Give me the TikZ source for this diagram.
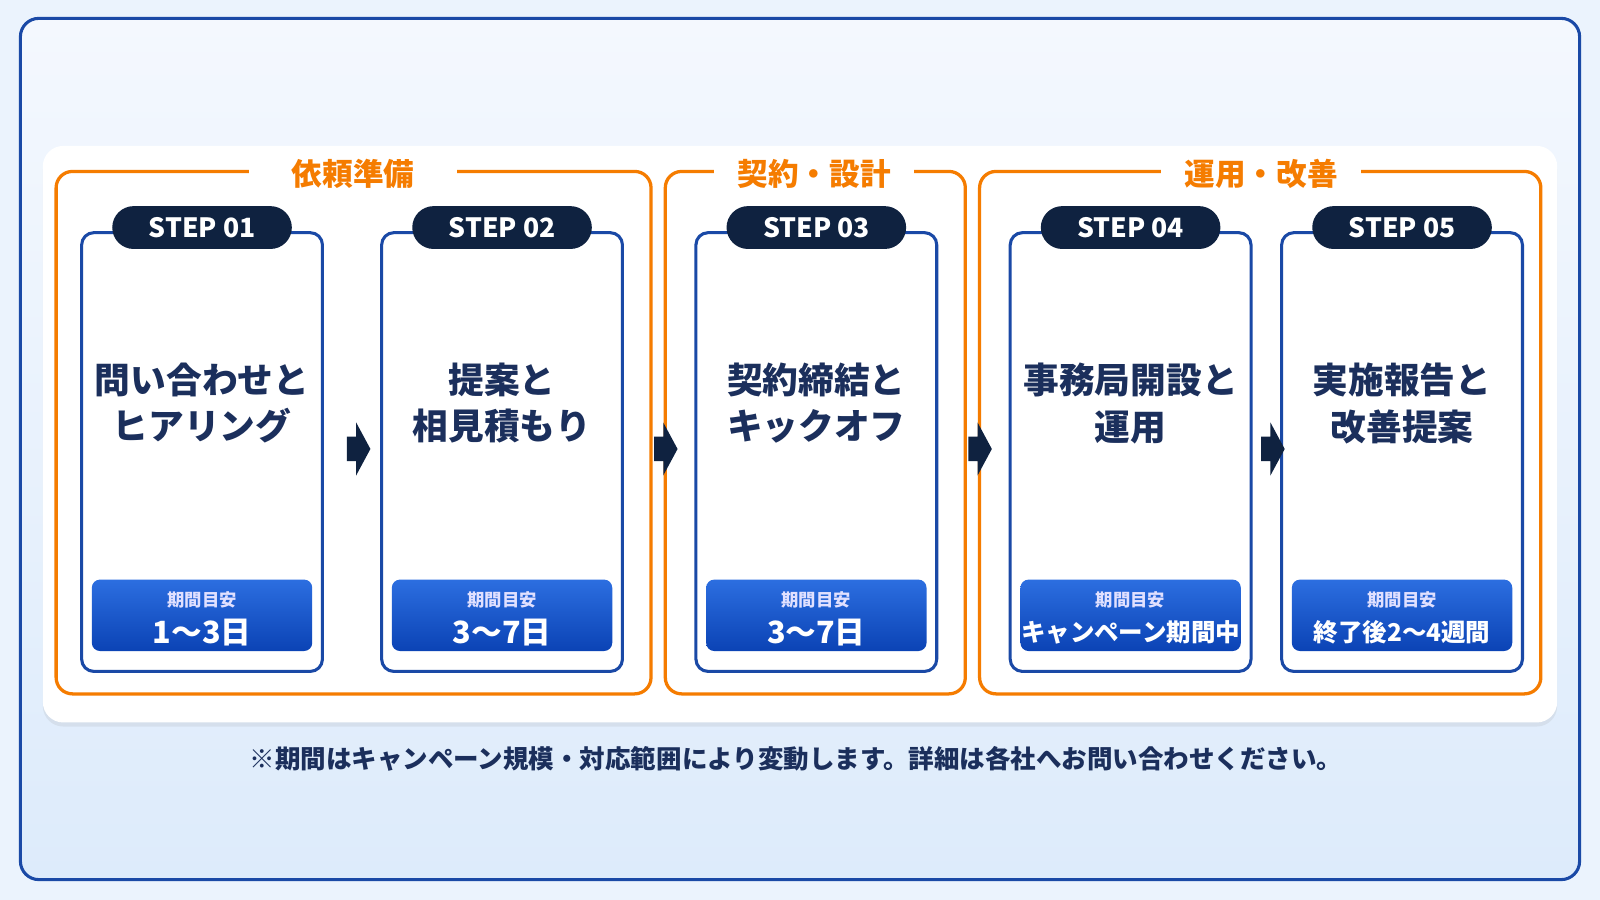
\documentclass[tikz,border=0pt]{standalone}
\usepackage{fontspec}
\setmainfont{Noto Sans CJK JP}
\usetikzlibrary{shadows,calc}
\definecolor{navy}{HTML}{0F2240}
\definecolor{ttl}{HTML}{1B2F5C}
\definecolor{frame}{HTML}{1A49A6}
\definecolor{org}{HTML}{F57C00}
\definecolor{bgA}{HTML}{F4F8FE}
\definecolor{bgB}{HTML}{DDEBFB}
\definecolor{bdA}{HTML}{2C6EE0}
\definecolor{bdB}{HTML}{0B43B5}
\tikzset{
 x=0.5pt,y=-0.5pt,
 group/.style={draw=org,line width=1.6pt,rounded corners=8pt},
 gtitle/.style={fill=white,text=org,font=\bfseries\fontsize{15}{18}\selectfont,inner xsep=6pt},
 card/.style={draw=frame,line width=1.5pt,rounded corners=6pt,fill=white},
 pill/.style={fill=navy,rounded corners=10.5pt,minimum width=88pt,minimum height=21pt,text=white,font=\bfseries\fontsize{13}{15}\selectfont},
 ctitle/.style={text=ttl,font=\bfseries\fontsize{17.5}{23}\selectfont,align=center},
 badge/.style={rounded corners=4pt,top color=bdA,bottom color=bdB,minimum width=108pt,minimum height=35pt},
 blab/.style={text=white!88!blue,font=\bfseries\fontsize{8.5}{10}\selectfont},
 bval/.style={text=white,font=\bfseries\fontsize{15}{17}\selectfont},
 bvals/.style={text=white,font=\bfseries\fontsize{12}{14}\selectfont},
 chev/.style={fill=navy}
}
\begin{document}
\begin{tikzpicture}
\fill[bgA!60!bgB] (0,0) rectangle (1568,882);
\useasboundingbox (0,0) rectangle (1568,882);
\draw[frame,line width=1.5pt,rounded corners=9pt,top color=bgA,bottom color=bgB] (20,18) rectangle (1548,862);
\fill[white,rounded corners=10pt,drop shadow={opacity=0.12,shadow xshift=0pt,shadow yshift=-2pt}] (42,143) rectangle (1526,708);
% groups
\draw[group] (55,168) rectangle (638,680);
\draw[group] (652,168) rectangle (946,680);
\draw[group] (960,168) rectangle (1510,680);
\node[gtitle,minimum width=102pt] (g1) at (346,170) {依頼準備};
\node[gtitle,minimum width=98pt] (g2) at (798,170) {契約・設計};
\node[gtitle,minimum width=98pt] (g3) at (1236,170) {運用・改善};
% cards
\foreach \i/\x/\t/\v/\s in {1/198/{問い合わせと\\ヒアリング}/{1〜3日}/bval,
 2/492/{提案と\\相見積もり}/{3〜7日}/bval,
 3/800/{契約締結と\\キックオフ}/{3〜7日}/bval,
 4/1108/{事務局開設と\\運用}/{キャンペーン期間中}/bvals,
 5/1374/{実施報告と\\改善提案}/{終了後2〜4週間}/bvals}{
 \draw[card] (\x-118,228) rectangle (\x+118,658);
 \coordinate (c\i) at (\x,440);
 \node[pill] (p\i) at (\x,223) {STEP 0\i};
 \node[ctitle] (t\i) at (\x,395) {\t};
 \node[badge] (b\i) at (\x,603) {};
 \node[blab] (l\i) at (\x,588) {期間目安};
 \node[\s] (v\i) at (\x,620) {\v};
}
% arrows
\foreach \a/\b in {1/2,2/3,3/4,4/5}{
 \coordinate (m\a) at ($(c\a)!0.5!(c\b)$);
 \fill[chev] ($(m\a)+(-5,-12)$) -- ($(m\a)+(4,-12)$) -- ($(m\a)+(4,-26)$) -- ($(m\a)+(18,0)$) -- ($(m\a)+(4,26)$) -- ($(m\a)+(4,12)$) -- ($(m\a)+(-5,12)$) -- cycle;
}
\node[text=ttl,font=\bfseries\fontsize{12.5}{15}\selectfont] (note) at (780,744) {※期間はキャンペーン規模・対応範囲により変動します。詳細は各社へお問い合わせください。};
\end{tikzpicture}
\end{document}
